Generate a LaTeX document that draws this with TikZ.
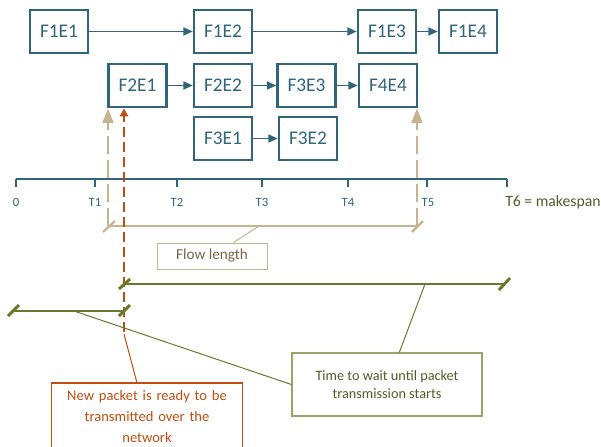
\documentclass[tikz,border=0pt]{standalone}
\usepackage{fontspec}
\setmainfont{Carlito}
\usetikzlibrary{arrows.meta,calc}
\definecolor{tealc}{RGB}{50,100,122}
\definecolor{tanc}{RGB}{198,180,144}
\definecolor{tantext}{RGB}{118,100,76}
\definecolor{orangec}{RGB}{190,78,18}
\definecolor{greenc}{RGB}{102,122,46}
\definecolor{greentext}{RGB}{80,94,42}
\definecolor{greenbox}{RGB}{150,164,104}
\begin{document}
\begin{tikzpicture}[x=0.75pt,y=-0.75pt,
  fbox/.style={draw=tealc,line width=1.9pt,minimum width=43.5pt,minimum height=32.25pt,inner sep=0pt,text=tealc,font=\fontsize{14.5}{16}\selectfont},
  flowarrow/.style={draw=tealc,line width=1.1pt,-{Triangle[length=7pt,width=6pt]}},
  axisline/.style={draw=tealc,line width=1.9pt},
  ticklabel/.style={text=tealc,font=\fontsize{9.5}{10}\selectfont,inner sep=1pt},
  tanarrow/.style={draw=tanc,line width=2.2pt,dash pattern=on 13.5pt off 4.5pt,-{Triangle[length=11pt,width=8pt]}},
  tanline/.style={draw=tanc,line width=1.6pt},
  orangearrow/.style={draw=orangec,line width=1.5pt,dash pattern=on 7.5pt off 3.75pt,-{Triangle[length=6pt,width=6pt]}},
  greenline/.style={draw=greenc,line width=2.2pt},
  leader/.style={line width=0.75pt},
]
\useasboundingbox (0,0) rectangle (601,447);

% boxes
\node[fbox] (f1e1) at (59,31.5) {F1E1};
\node[fbox] (f1e2) at (223,31.5) {F1E2};
\node[fbox] (f1e3) at (387,31.5) {F1E3};
\node[fbox] (f1e4) at (468,31.5) {F1E4};
\node[fbox] (f2e1) at (137.5,85.5) {F2E1};
\node[fbox] (f2e2) at (223,85.5) {F2E2};
\node[fbox] (f3e3) at (306.5,85.5) {F3E3};
\node[fbox] (f4e4) at (388,85.5) {F4E4};
\node[fbox] (f3e1) at (223,138.5) {F3E1};
\node[fbox] (f3e2) at (308,138.5) {F3E2};

\draw[flowarrow] (f1e1) -- (f1e2);
\draw[flowarrow] (f1e2) -- (f1e3);
\draw[flowarrow] (f1e3) -- (f1e4);
\draw[flowarrow] (f2e1) -- (f2e2);
\draw[flowarrow] (f2e2) -- (f3e3);
\draw[flowarrow] (f3e3) -- (f4e4);
\draw[flowarrow] (f3e1) -- (f3e2);

% time axis
\coordinate (t0) at (16,179);
\coordinate (t1) at (95,179);
\coordinate (t2) at (177,179);
\coordinate (t3) at (262,179);
\coordinate (t4) at (348,179);
\coordinate (t5) at (427,179);
\coordinate (t6) at (507,179);
\draw[axisline] (t0) -- (t6);
\foreach \t in {t0,t1,t2,t3,t4,t5,t6} \draw[axisline] (\t) -- ++(0,8);
\node[ticklabel] (l0) at (16,202) {0};
\node[ticklabel] (l1) at (95,202) {T1};
\node[ticklabel] (l2) at (177,202) {T2};
\node[ticklabel] (l3) at (262,202) {T3};
\node[ticklabel] (l4) at (348,202) {T4};
\node[ticklabel] (l5) at (428,202) {T5};
\node[anchor=west,inner sep=0pt,text=greentext,font=\fontsize{11.8}{13}\selectfont] (l6) at (505,202) {T6 = makespan};

% flow length bracket
\coordinate (bl) at (108,226);
\coordinate (br) at (417,226);
\draw[tanarrow] (bl) -- (bl |- f2e1.south);
\draw[tanarrow] (br) -- (br |- f4e4.south);
\draw[tanline] (bl) -- (br);
\draw[tanline] ($(bl)+(-5,6)$) -- ($(bl)+(7,-5)$);
\draw[tanline] ($(br)+(-5,6)$) -- ($(br)+(6,-5)$);
\node[draw=tanc,line width=0.75pt,minimum width=82.5pt,minimum height=19.5pt,inner sep=0pt,text=tantext,font=\fontsize{11.4}{13}\selectfont] (flowlen) at (212,256) {Flow length};
\coordinate (flc) at (259,226);
\draw[tanc,leader] (flowlen.32) -- (flc);

% orange ready marker
\coordinate (ob) at (124,332);
\draw[orangearrow] (ob) -- (ob |- f2e1.south);

% green wait lines
\coordinate (ga) at (124,284);
\coordinate (gb) at (505,284);
\coordinate (gc) at (13,311);
\coordinate (gd) at (124,311);
\draw[greenline] (ga) -- (gb);
\draw[greenline] (gc) -- (gd);
\draw[greenline] ($(ga)+(-5,5)$) -- ($(ga)+(6,-5)$);
\draw[greenline] ($(gb)+(-6,6)$) -- ($(gb)+(5,-6)$);
\draw[greenline] ($(gc)+(-5,5)$) -- ($(gc)+(6,-6)$);
\draw[greenline] ($(gd)+(-5,5)$) -- ($(gd)+(6,-6)$);

% green callout
\node[draw=greenbox,line width=0.9pt,minimum width=142.5pt,minimum height=47.25pt,inner sep=0pt,align=center,text=greentext,font=\fontsize{10.7}{13}\selectfont] (gnote) at (387,384.5) {Time to wait until packet\\transmission starts};
\coordinate (gl1) at (74,311);
\coordinate (gl2) at (425,284);
\draw[greenc,leader] (gnote.west) -- (gl1);
\draw[greenc,leader] (gnote.69) -- (gl2);

% orange callout
\node[anchor=north,text width=138.5pt,inner xsep=2pt,inner ysep=5pt,align=center,text=orangec,font=\fontsize{10.9}{16}\selectfont] (onote) at (147,383) {New packet is ready to be\\transmitted over the\\network};
\coordinate (obot) at (0,452);
\draw[orangec,line width=0.9pt] (onote.north west) rectangle (onote.east |- obot);
\coordinate (ol) at (124,334);
\draw[orangec,leader] (ol) -- ($(onote.north)+(-10,0)$);
\end{tikzpicture}
\end{document}
